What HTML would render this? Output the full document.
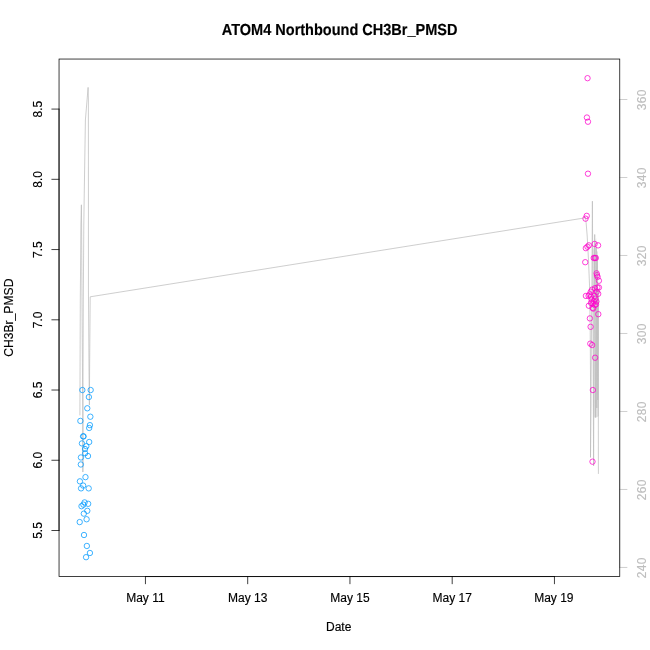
<!DOCTYPE html><html><head><meta charset="utf-8"><title>plot</title>
<style>html,body{margin:0;padding:0;background:#fff;}svg{display:block;will-change:transform;}text{font-family:"Liberation Sans",sans-serif;stroke-width:0.15px;}text[fill="#000"]{stroke:#000;}text[fill="#BEBEBE"]{stroke:#BEBEBE;}</style></head><body>
<svg width="650" height="650" viewBox="0 0 650 650">
<rect width="650" height="650" fill="#fff"/>
<polygon points="593.1,250 596.2,238 596.4,250 597.9,252 598.2,288 599.0,292 599.0,416 596.2,417.5 594.0,417.5 593.1,405" fill="#BEBEBE" fill-opacity="0.45"/>
<polyline fill="none" stroke="#BEBEBE" stroke-width="0.75" stroke-linejoin="round" stroke-linecap="round" points="79.90,415.00 80.30,300.00 80.90,225.00 81.40,204.80 81.60,225.00 82.00,300.00 82.80,420.00 82.85,472.00 82.90,472.00 83.00,380.00 83.30,300.00 83.80,225.00 84.30,190.00 85.40,120.00 88.10,87.40 88.40,100.00 88.45,290.00 89.00,370.00 89.40,405.00 89.60,370.00 90.20,296.80 582.30,218.30 585.50,217.50 586.10,222.50 587.20,236.00 588.50,260.00 589.60,287.00 590.20,330.00 590.70,405.00 590.50,457.40 591.30,350.00 591.90,290.00 592.40,201.20 592.90,300.00 593.60,466.00 594.00,350.00 594.70,234.50 595.10,330.00 595.60,417.50 595.90,330.00 596.20,248.00 596.50,330.00 596.80,408.00 597.00,330.00 597.30,255.00 597.55,330.00 597.80,400.00 598.00,340.00 598.20,290.00 598.30,380.00 598.40,473.50"/>
<line x1="619.76" y1="567.45" x2="619.76" y2="99.50" stroke="#BEBEBE" stroke-width="0.75" stroke-linecap="round"/>
<line x1="619.76" y1="567.45" x2="626.96" y2="567.45" stroke="#BEBEBE" stroke-width="0.75" stroke-linecap="round"/>
<text transform="translate(645.68,567.75) rotate(-90)" font-size="12" letter-spacing="0.33" text-anchor="middle" fill="#BEBEBE">240</text>
<line x1="619.76" y1="489.46" x2="626.96" y2="489.46" stroke="#BEBEBE" stroke-width="0.75" stroke-linecap="round"/>
<text transform="translate(645.68,489.76) rotate(-90)" font-size="12" letter-spacing="0.33" text-anchor="middle" fill="#BEBEBE">260</text>
<line x1="619.76" y1="411.47" x2="626.96" y2="411.47" stroke="#BEBEBE" stroke-width="0.75" stroke-linecap="round"/>
<text transform="translate(645.68,411.77) rotate(-90)" font-size="12" letter-spacing="0.33" text-anchor="middle" fill="#BEBEBE">280</text>
<line x1="619.76" y1="333.47" x2="626.96" y2="333.47" stroke="#BEBEBE" stroke-width="0.75" stroke-linecap="round"/>
<text transform="translate(645.68,333.77) rotate(-90)" font-size="12" letter-spacing="0.33" text-anchor="middle" fill="#BEBEBE">300</text>
<line x1="619.76" y1="255.48" x2="626.96" y2="255.48" stroke="#BEBEBE" stroke-width="0.75" stroke-linecap="round"/>
<text transform="translate(645.68,255.78) rotate(-90)" font-size="12" letter-spacing="0.33" text-anchor="middle" fill="#BEBEBE">320</text>
<line x1="619.76" y1="177.49" x2="626.96" y2="177.49" stroke="#BEBEBE" stroke-width="0.75" stroke-linecap="round"/>
<text transform="translate(645.68,177.79) rotate(-90)" font-size="12" letter-spacing="0.33" text-anchor="middle" fill="#BEBEBE">340</text>
<line x1="619.76" y1="99.50" x2="626.96" y2="99.50" stroke="#BEBEBE" stroke-width="0.75" stroke-linecap="round"/>
<text transform="translate(645.68,99.80) rotate(-90)" font-size="12" letter-spacing="0.33" text-anchor="middle" fill="#BEBEBE">360</text>
<circle cx="82.35" cy="390.03" r="2.7" fill="none" stroke="#0099FF" stroke-width="0.75"/>
<circle cx="90.66" cy="390.03" r="2.7" fill="none" stroke="#0099FF" stroke-width="0.75"/>
<circle cx="88.88" cy="397.05" r="2.7" fill="none" stroke="#0099FF" stroke-width="0.75"/>
<circle cx="87.28" cy="408.29" r="2.7" fill="none" stroke="#0099FF" stroke-width="0.75"/>
<circle cx="90.35" cy="416.72" r="2.7" fill="none" stroke="#0099FF" stroke-width="0.75"/>
<circle cx="80.38" cy="420.93" r="2.7" fill="none" stroke="#0099FF" stroke-width="0.75"/>
<circle cx="89.92" cy="425.15" r="2.7" fill="none" stroke="#0099FF" stroke-width="0.75"/>
<circle cx="89.18" cy="427.96" r="2.7" fill="none" stroke="#0099FF" stroke-width="0.75"/>
<circle cx="83.10" cy="436.39" r="2.7" fill="none" stroke="#0099FF" stroke-width="0.75"/>
<circle cx="83.60" cy="436.39" r="2.7" fill="none" stroke="#0099FF" stroke-width="0.75"/>
<circle cx="81.92" cy="443.41" r="2.7" fill="none" stroke="#0099FF" stroke-width="0.75"/>
<circle cx="89.20" cy="442.00" r="2.7" fill="none" stroke="#0099FF" stroke-width="0.75"/>
<circle cx="86.30" cy="446.22" r="2.7" fill="none" stroke="#0099FF" stroke-width="0.75"/>
<circle cx="85.00" cy="449.03" r="2.7" fill="none" stroke="#0099FF" stroke-width="0.75"/>
<circle cx="85.10" cy="453.24" r="2.7" fill="none" stroke="#0099FF" stroke-width="0.75"/>
<circle cx="80.95" cy="457.46" r="2.7" fill="none" stroke="#0099FF" stroke-width="0.75"/>
<circle cx="88.00" cy="456.05" r="2.7" fill="none" stroke="#0099FF" stroke-width="0.75"/>
<circle cx="80.84" cy="464.48" r="2.7" fill="none" stroke="#0099FF" stroke-width="0.75"/>
<circle cx="85.46" cy="477.12" r="2.7" fill="none" stroke="#0099FF" stroke-width="0.75"/>
<circle cx="79.92" cy="481.34" r="2.7" fill="none" stroke="#0099FF" stroke-width="0.75"/>
<circle cx="83.15" cy="485.55" r="2.7" fill="none" stroke="#0099FF" stroke-width="0.75"/>
<circle cx="81.07" cy="488.36" r="2.7" fill="none" stroke="#0099FF" stroke-width="0.75"/>
<circle cx="88.69" cy="488.36" r="2.7" fill="none" stroke="#0099FF" stroke-width="0.75"/>
<circle cx="84.60" cy="502.41" r="2.7" fill="none" stroke="#0099FF" stroke-width="0.75"/>
<circle cx="88.15" cy="503.81" r="2.7" fill="none" stroke="#0099FF" stroke-width="0.75"/>
<circle cx="83.40" cy="504.65" r="2.7" fill="none" stroke="#0099FF" stroke-width="0.75"/>
<circle cx="81.50" cy="506.20" r="2.7" fill="none" stroke="#0099FF" stroke-width="0.75"/>
<circle cx="87.30" cy="510.83" r="2.7" fill="none" stroke="#0099FF" stroke-width="0.75"/>
<circle cx="83.84" cy="513.64" r="2.7" fill="none" stroke="#0099FF" stroke-width="0.75"/>
<circle cx="86.60" cy="519.26" r="2.7" fill="none" stroke="#0099FF" stroke-width="0.75"/>
<circle cx="79.70" cy="522.07" r="2.7" fill="none" stroke="#0099FF" stroke-width="0.75"/>
<circle cx="84.00" cy="535.00" r="2.7" fill="none" stroke="#0099FF" stroke-width="0.75"/>
<circle cx="86.85" cy="545.95" r="2.7" fill="none" stroke="#0099FF" stroke-width="0.75"/>
<circle cx="89.92" cy="552.98" r="2.7" fill="none" stroke="#0099FF" stroke-width="0.75"/>
<circle cx="86.05" cy="557.19" r="2.7" fill="none" stroke="#0099FF" stroke-width="0.75"/>
<circle cx="587.54" cy="78.19" r="2.7" fill="none" stroke="#FF00CC" stroke-width="0.75"/>
<circle cx="586.92" cy="117.52" r="2.7" fill="none" stroke="#FF00CC" stroke-width="0.75"/>
<circle cx="587.97" cy="121.73" r="2.7" fill="none" stroke="#FF00CC" stroke-width="0.75"/>
<circle cx="587.97" cy="173.71" r="2.7" fill="none" stroke="#FF00CC" stroke-width="0.75"/>
<circle cx="586.74" cy="215.85" r="2.7" fill="none" stroke="#FF00CC" stroke-width="0.75"/>
<circle cx="585.50" cy="218.66" r="2.7" fill="none" stroke="#FF00CC" stroke-width="0.75"/>
<circle cx="588.84" cy="245.35" r="2.7" fill="none" stroke="#FF00CC" stroke-width="0.75"/>
<circle cx="587.46" cy="246.75" r="2.7" fill="none" stroke="#FF00CC" stroke-width="0.75"/>
<circle cx="585.84" cy="248.16" r="2.7" fill="none" stroke="#FF00CC" stroke-width="0.75"/>
<circle cx="594.60" cy="243.94" r="2.7" fill="none" stroke="#FF00CC" stroke-width="0.75"/>
<circle cx="598.07" cy="245.35" r="2.7" fill="none" stroke="#FF00CC" stroke-width="0.75"/>
<circle cx="593.70" cy="257.99" r="2.7" fill="none" stroke="#FF00CC" stroke-width="0.75"/>
<circle cx="594.80" cy="257.99" r="2.7" fill="none" stroke="#FF00CC" stroke-width="0.75"/>
<circle cx="595.80" cy="257.99" r="2.7" fill="none" stroke="#FF00CC" stroke-width="0.75"/>
<circle cx="585.24" cy="262.20" r="2.7" fill="none" stroke="#FF00CC" stroke-width="0.75"/>
<circle cx="596.60" cy="273.30" r="2.7" fill="none" stroke="#FF00CC" stroke-width="0.75"/>
<circle cx="597.00" cy="275.13" r="2.7" fill="none" stroke="#FF00CC" stroke-width="0.75"/>
<circle cx="597.60" cy="276.95" r="2.7" fill="none" stroke="#FF00CC" stroke-width="0.75"/>
<circle cx="598.90" cy="280.74" r="2.7" fill="none" stroke="#FF00CC" stroke-width="0.75"/>
<circle cx="598.90" cy="287.49" r="2.7" fill="none" stroke="#FF00CC" stroke-width="0.75"/>
<circle cx="597.40" cy="287.49" r="2.7" fill="none" stroke="#FF00CC" stroke-width="0.75"/>
<circle cx="595.00" cy="288.19" r="2.7" fill="none" stroke="#FF00CC" stroke-width="0.75"/>
<circle cx="592.20" cy="289.59" r="2.7" fill="none" stroke="#FF00CC" stroke-width="0.75"/>
<circle cx="590.80" cy="291.70" r="2.7" fill="none" stroke="#FF00CC" stroke-width="0.75"/>
<circle cx="589.50" cy="294.51" r="2.7" fill="none" stroke="#FF00CC" stroke-width="0.75"/>
<circle cx="596.80" cy="291.70" r="2.7" fill="none" stroke="#FF00CC" stroke-width="0.75"/>
<circle cx="598.20" cy="293.81" r="2.7" fill="none" stroke="#FF00CC" stroke-width="0.75"/>
<circle cx="585.90" cy="295.92" r="2.7" fill="none" stroke="#FF00CC" stroke-width="0.75"/>
<circle cx="588.60" cy="295.92" r="2.7" fill="none" stroke="#FF00CC" stroke-width="0.75"/>
<circle cx="591.00" cy="296.62" r="2.7" fill="none" stroke="#FF00CC" stroke-width="0.75"/>
<circle cx="594.60" cy="295.92" r="2.7" fill="none" stroke="#FF00CC" stroke-width="0.75"/>
<circle cx="595.30" cy="298.72" r="2.7" fill="none" stroke="#FF00CC" stroke-width="0.75"/>
<circle cx="591.50" cy="299.43" r="2.7" fill="none" stroke="#FF00CC" stroke-width="0.75"/>
<circle cx="596.40" cy="301.53" r="2.7" fill="none" stroke="#FF00CC" stroke-width="0.75"/>
<circle cx="593.80" cy="301.53" r="2.7" fill="none" stroke="#FF00CC" stroke-width="0.75"/>
<circle cx="591.00" cy="302.94" r="2.7" fill="none" stroke="#FF00CC" stroke-width="0.75"/>
<circle cx="592.60" cy="303.64" r="2.7" fill="none" stroke="#FF00CC" stroke-width="0.75"/>
<circle cx="594.80" cy="305.05" r="2.7" fill="none" stroke="#FF00CC" stroke-width="0.75"/>
<circle cx="596.00" cy="304.34" r="2.7" fill="none" stroke="#FF00CC" stroke-width="0.75"/>
<circle cx="588.84" cy="305.75" r="2.7" fill="none" stroke="#FF00CC" stroke-width="0.75"/>
<circle cx="593.20" cy="308.56" r="2.7" fill="none" stroke="#FF00CC" stroke-width="0.75"/>
<circle cx="592.60" cy="307.86" r="2.7" fill="none" stroke="#FF00CC" stroke-width="0.75"/>
<circle cx="598.30" cy="314.18" r="2.7" fill="none" stroke="#FF00CC" stroke-width="0.75"/>
<circle cx="589.90" cy="318.39" r="2.7" fill="none" stroke="#FF00CC" stroke-width="0.75"/>
<circle cx="590.60" cy="326.82" r="2.7" fill="none" stroke="#FF00CC" stroke-width="0.75"/>
<circle cx="590.30" cy="343.67" r="2.7" fill="none" stroke="#FF00CC" stroke-width="0.75"/>
<circle cx="592.15" cy="345.08" r="2.7" fill="none" stroke="#FF00CC" stroke-width="0.75"/>
<circle cx="595.10" cy="357.72" r="2.7" fill="none" stroke="#FF00CC" stroke-width="0.75"/>
<circle cx="592.85" cy="390.03" r="2.7" fill="none" stroke="#FF00CC" stroke-width="0.75"/>
<circle cx="592.50" cy="461.67" r="2.7" fill="none" stroke="#FF00CC" stroke-width="0.75"/>
<line x1="145.45" y1="576.56" x2="554.45" y2="576.56" stroke="#000" stroke-width="0.75" stroke-linecap="round"/>
<line x1="145.45" y1="576.56" x2="145.45" y2="583.76" stroke="#000" stroke-width="0.75" stroke-linecap="round"/>
<text x="145.45" y="602.48" font-size="12" text-anchor="middle" fill="#000">May 11</text>
<line x1="247.70" y1="576.56" x2="247.70" y2="583.76" stroke="#000" stroke-width="0.75" stroke-linecap="round"/>
<text x="247.70" y="602.48" font-size="12" text-anchor="middle" fill="#000">May 13</text>
<line x1="349.95" y1="576.56" x2="349.95" y2="583.76" stroke="#000" stroke-width="0.75" stroke-linecap="round"/>
<text x="349.95" y="602.48" font-size="12" text-anchor="middle" fill="#000">May 15</text>
<line x1="452.20" y1="576.56" x2="452.20" y2="583.76" stroke="#000" stroke-width="0.75" stroke-linecap="round"/>
<text x="452.20" y="602.48" font-size="12" text-anchor="middle" fill="#000">May 17</text>
<line x1="554.45" y1="576.56" x2="554.45" y2="583.76" stroke="#000" stroke-width="0.75" stroke-linecap="round"/>
<text x="553.85" y="602.48" font-size="12" text-anchor="middle" fill="#000">May 19</text>
<line x1="59.04" y1="530.50" x2="59.04" y2="109.09" stroke="#000" stroke-width="0.75" stroke-linecap="round"/>
<line x1="59.04" y1="530.50" x2="51.84" y2="530.50" stroke="#000" stroke-width="0.75" stroke-linecap="round"/>
<text transform="translate(41.76,530.50) rotate(-90)" font-size="12" text-anchor="middle" fill="#000">5.5</text>
<line x1="59.04" y1="460.26" x2="51.84" y2="460.26" stroke="#000" stroke-width="0.75" stroke-linecap="round"/>
<text transform="translate(41.76,460.26) rotate(-90)" font-size="12" text-anchor="middle" fill="#000">6.0</text>
<line x1="59.04" y1="390.03" x2="51.84" y2="390.03" stroke="#000" stroke-width="0.75" stroke-linecap="round"/>
<text transform="translate(41.76,390.03) rotate(-90)" font-size="12" text-anchor="middle" fill="#000">6.5</text>
<line x1="59.04" y1="319.80" x2="51.84" y2="319.80" stroke="#000" stroke-width="0.75" stroke-linecap="round"/>
<text transform="translate(41.76,319.80) rotate(-90)" font-size="12" text-anchor="middle" fill="#000">7.0</text>
<line x1="59.04" y1="249.56" x2="51.84" y2="249.56" stroke="#000" stroke-width="0.75" stroke-linecap="round"/>
<text transform="translate(41.76,249.56) rotate(-90)" font-size="12" text-anchor="middle" fill="#000">7.5</text>
<line x1="59.04" y1="179.32" x2="51.84" y2="179.32" stroke="#000" stroke-width="0.75" stroke-linecap="round"/>
<text transform="translate(41.76,179.32) rotate(-90)" font-size="12" text-anchor="middle" fill="#000">8.0</text>
<line x1="59.04" y1="109.09" x2="51.84" y2="109.09" stroke="#000" stroke-width="0.75" stroke-linecap="round"/>
<text transform="translate(41.76,109.09) rotate(-90)" font-size="12" text-anchor="middle" fill="#000">8.5</text>
<rect x="59.04" y="59.04" width="560.72" height="517.52" fill="none" stroke="#000" stroke-width="0.75"/>
<text transform="translate(339.65,34.86) scale(1.0084,1.11)" font-size="14.4" font-weight="bold" text-anchor="middle" fill="#000" style="stroke-width:0.15px;text-rendering:geometricPrecision">ATOM4 Northbound CH3Br_PMSD</text>
<text x="338.65" y="631.28" font-size="12" text-anchor="middle" fill="#000">Date</text>
<text transform="translate(12.96,317.70) rotate(-90) scale(1.012,1)" font-size="12" text-anchor="middle" fill="#000">CH3Br_PMSD</text>
</svg></body></html>
